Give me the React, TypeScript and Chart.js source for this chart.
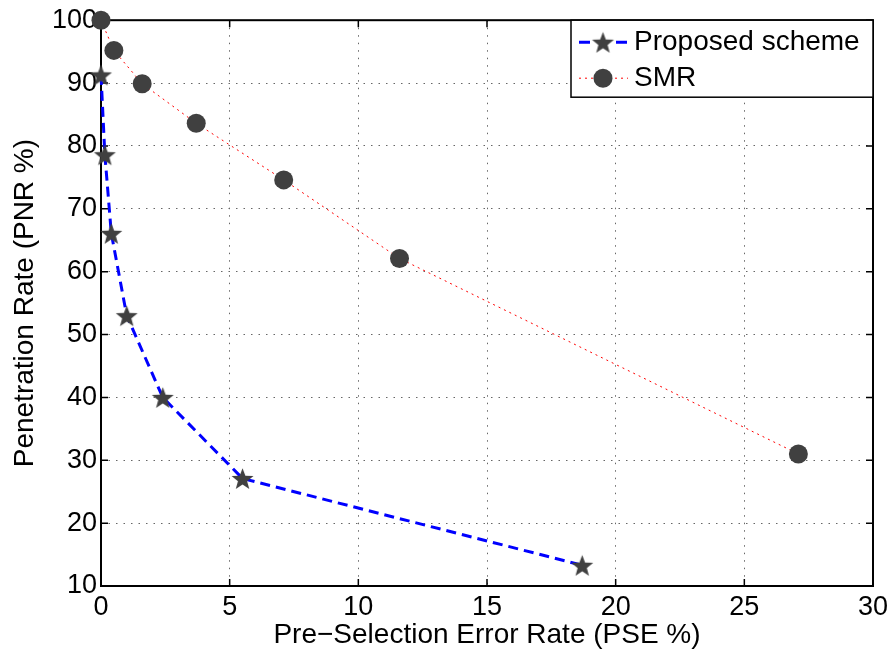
import React, { useEffect, useRef } from "react";
import { Chart, registerables } from "chart.js";
Chart.register(...registerables);

const seriesNames = ["Proposed scheme", "SMR"];
const proposedX = [0.0, 0.15, 0.4, 1.0, 2.4, 5.5, 18.7];
const proposedY = [91.3, 78.6, 66.1, 53.0, 40.0, 27.1, 13.3];
const smrX = [0.0, 0.5, 1.6, 3.7, 7.1, 11.6, 27.1];
const smrY = [100, 95.2, 89.9, 83.6, 74.6, 62.1, 31.0];
const xTicks = [0, 5, 10, 15, 20, 25, 30];
const yTicks = [10, 20, 30, 40, 50, 60, 70, 80, 90, 100];
const xTitle = "Pre\u2212Selection Error Rate (PSE %)";
const yTitle = "Penetration Rate (PNR %)";

const FONT = "'Liberation Sans', Arial, Helvetica, sans-serif";
const MARK = "#404040";

function makeStar(r: number, color: string) {
  const c = document.createElement("canvas");
  const s = Math.ceil(r * 2 + 2);
  c.width = s;
  c.height = s;
  const ctx = c.getContext("2d")!;
  ctx.translate(s / 2, s / 2 + r * 0.1);
  ctx.beginPath();
  for (let i = 0; i < 10; i++) {
    const rad = i % 2 === 0 ? r : r * 0.42;
    const a = -Math.PI / 2 + (i * Math.PI) / 5;
    ctx.lineTo(rad * Math.cos(a), rad * Math.sin(a));
  }
  ctx.closePath();
  ctx.fillStyle = color;
  ctx.fill();
  return c;
}

export default function App() {
  const ref = useRef<HTMLCanvasElement>(null);
  useEffect(() => {
    const star = makeStar(11.5, MARK);
    const boxPlugin = {
      id: "boxPlugin",
      beforeDatasetsDraw(chart: any) {
        const { ctx, chartArea: a, scales } = chart;
        ctx.save();
        ctx.strokeStyle = "#000";
        ctx.lineWidth = 1.5;
        const tl = 7;
        ctx.beginPath();
        for (const t of xTicks) {
          const x = scales.x.getPixelForValue(t);
          ctx.moveTo(x, a.bottom);
          ctx.lineTo(x, a.bottom - tl);
          ctx.moveTo(x, a.top);
          ctx.lineTo(x, a.top + tl);
        }
        for (const t of yTicks) {
          const y = scales.y.getPixelForValue(t);
          ctx.moveTo(a.left, y);
          ctx.lineTo(a.left + tl, y);
          ctx.moveTo(a.right, y);
          ctx.lineTo(a.right - tl, y);
        }
        ctx.stroke();
        ctx.lineWidth = 2;
        ctx.strokeRect(a.left, a.top, a.right - a.left, a.bottom - a.top);
        ctx.restore();
      },
      afterDraw(chart: any) {
        const { ctx, chartArea: a } = chart;
        ctx.save();
        const bx = 571,
          by = a.top,
          bw = a.right - 571,
          bh = 77;
        ctx.fillStyle = "#fff";
        ctx.fillRect(bx, by, bw, bh);
        ctx.strokeStyle = "#000";
        ctx.lineWidth = 1.5;
        ctx.strokeRect(bx, by, bw, bh);
        const rows = [by + 22, by + 58];
        const mx = 603;
        // row 1
        ctx.strokeStyle = "#0000ff";
        ctx.lineWidth = 3;
        ctx.beginPath();
        ctx.moveTo(579, rows[0]);
        ctx.lineTo(590, rows[0]);
        ctx.moveTo(616, rows[0]);
        ctx.lineTo(627, rows[0]);
        ctx.stroke();
        ctx.drawImage(star, mx - star.width / 2, rows[0] - star.height / 2);
        // row 2
        ctx.strokeStyle = "#ff0000";
        ctx.lineWidth = 1;
        ctx.setLineDash([2, 4]);
        ctx.beginPath();
        ctx.moveTo(579, rows[1]);
        ctx.lineTo(628, rows[1]);
        ctx.stroke();
        ctx.setLineDash([]);
        ctx.fillStyle = MARK;
        ctx.beginPath();
        ctx.arc(mx, rows[1], 9.5, 0, Math.PI * 2);
        ctx.fill();
        ctx.fillStyle = "#000";
        ctx.font = `28px ${FONT}`;
        ctx.textBaseline = "middle";
        ctx.textAlign = "left";
        ctx.fillText(seriesNames[0], 634, rows[0]);
        ctx.fillText(seriesNames[1], 634, rows[1]);
        ctx.restore();
      },
    };
    const chart = new Chart(ref.current!, {
      type: "scatter",
      data: {
        datasets: [
          {
            label: seriesNames[0],
            data: proposedX.map((x, i) => ({ x, y: proposedY[i] })),
            showLine: true,
            borderColor: "#0000ff",
            borderWidth: 3,
            borderDash: [10, 6],
            pointStyle: star as any,
            pointRadius: 11,
            backgroundColor: MARK,
            clip: false as any,
          },
          {
            label: seriesNames[1],
            data: smrX.map((x, i) => ({ x, y: smrY[i] })),
            showLine: true,
            borderColor: "#ff0000",
            borderWidth: 1,
            borderDash: [2, 4],
            pointStyle: "circle",
            pointRadius: 9.5,
            pointBorderWidth: 0,
            pointBackgroundColor: MARK,
            backgroundColor: MARK,
            clip: false as any,
          },
        ],
      },
      options: {
        responsive: false,
        animation: false,
        devicePixelRatio: 1,
        layout: { padding: { top: 19, right: 21, left: 0, bottom: 0 } },
        plugins: { legend: { display: false }, tooltip: { enabled: false } },
        scales: {
          x: {
            type: "linear",
            min: 0,
            max: 30,
            afterFit: (s: any) => {
              s.height = 69;
            },
            afterBuildTicks: (s: any) => {
              s.ticks = xTicks.map((v) => ({ value: v }));
            },
            ticks: {
              color: "#000",
              font: { family: FONT, size: 27 },
              padding: 5,
              maxRotation: 0,
              autoSkip: false,
            },
            grid: {
              color: "#666666",
              lineWidth: 1,
              drawTicks: false,
            },
            border: { display: false, dash: [1.5, 6] },
            title: {
              display: true,
              text: xTitle,
              color: "#000",
              font: { family: FONT, size: 28 },
              padding: { top: 0, bottom: 3 },
            },
          },
          y: {
            type: "linear",
            min: 10,
            max: 100,
            afterFit: (s: any) => {
              s.width = 101;
            },
            afterBuildTicks: (s: any) => {
              s.ticks = yTicks.map((v) => ({ value: v }));
            },
            ticks: {
              color: "#000",
              font: { family: FONT, size: 27 },
              padding: 4,
              autoSkip: false,
            },
            grid: {
              color: "#666666",
              lineWidth: 1,
              drawTicks: false,
            },
            border: { display: false, dash: [1.5, 6] },
            title: {
              display: true,
              text: yTitle,
              color: "#000",
              font: { family: FONT, size: 28 },
              padding: { top: 8, bottom: 0 },
            },
          },
        },
      },
      plugins: [boxPlugin],
    });
    return () => chart.destroy();
  }, []);
  return (
    <div style={{ position: "fixed", left: 0, top: 0, width: 894, height: 655, background: "#fff" }}>
      <canvas ref={ref} width={894} height={655} style={{ display: "block" }} />
    </div>
  );
}
